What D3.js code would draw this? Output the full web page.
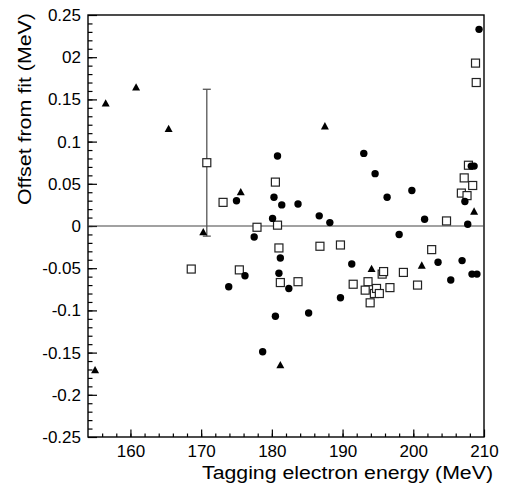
<!DOCTYPE html>
<html>
<head>
<meta charset="utf-8">
<script src="https://cdn.jsdelivr.net/npm/d3@7"></script>
<style>
  body { margin: 0; background: #fff; }
  text { font-family: "Liberation Sans", Arial, Helvetica, sans-serif; fill: #000; }
</style>
</head>
<body>
<script>
// data
const circleX = [175.0, 180.8, 180.3, 181.4, 183.7, 180.1, 177.5, 173.9, 176.2, 181.2, 181.0, 182.4,
                 180.5, 178.7, 185.2, 186.7, 188.2, 193.0, 194.6, 196.3, 199.8, 201.6, 207.7, 207.3,
                 208.2, 208.6, 209.3, 189.7, 191.3, 198.0, 203.5, 205.3, 206.9, 208.3, 209.0];
const circleY = [0.030, 0.083, 0.034, 0.025, 0.026, 0.009, -0.013, -0.072, -0.059, -0.038, -0.056, -0.074,
                 -0.107, -0.149, -0.103, 0.012, 0.004, 0.086, 0.062, 0.034, 0.042, 0.008, 0.002, 0.029,
                 0.071, 0.071, 0.233, -0.085, -0.045, -0.010, -0.043, -0.064, -0.041, -0.057, -0.057];

const squareX = [170.8, 173.1, 180.5, 180.8, 177.9, 168.6, 175.4, 181.0, 181.2, 183.7, 186.8, 189.7,
                 191.5, 193.6, 193.2, 193.9, 194.5, 194.8, 195.2, 195.6, 195.8, 196.7, 198.6, 200.6,
                 202.6, 204.7, 206.8, 207.6, 207.2, 208.4, 207.8, 208.8, 208.9];
const squareY = [0.075, 0.028, 0.052, 0.001, -0.0015, -0.051, -0.052, -0.026, -0.067, -0.066, -0.024, -0.0225,
                 -0.069, -0.066, -0.076, -0.091, -0.080, -0.074, -0.080, -0.057, -0.054, -0.073, -0.055, -0.070,
                 -0.028, 0.006, 0.039, 0.036, 0.057, 0.048, 0.072, 0.193, 0.170];
// error bar on the first square only
const squareErr = [0.087];

const triX = [156.5, 160.8, 165.4, 175.6, 170.3, 155.0, 181.2, 187.5, 194.1, 201.2, 208.6];
const triY = [0.145, 0.164, 0.115, 0.040, -0.0075, -0.171, -0.165, 0.118, -0.051, -0.047, 0.017];

const yTickValues = [0.25, 0.2, 0.15, 0.1, 0.05, 0, -0.05, -0.1, -0.15, -0.2, -0.25];
const yTickLabels = ["0.25", "02", "0.15", "0.1", "0.05", "0", "-0.05", "-0.1", "-0.15", "-0.2", "-0.25"];
const xTickValues = [160, 170, 180, 190, 200, 210];

const width = 508, height = 488;
const marginLeft = 88, marginRight = 24, marginTop = 15, marginBottom = 51;

const svg = d3.create("svg")
  .attr("width", width)
  .attr("height", height);

const x = d3.scaleLinear().domain([154, 210]).range([marginLeft, width - marginRight]);
const y = d3.scaleLinear().domain([-0.25, 0.25]).range([height - marginBottom, marginTop]);

// minor ticks
svg.append("g")
  .attr("transform", `translate(0,${height - marginBottom})`)
  .call(d3.axisBottom(x).tickValues(d3.range(156, 210, 2)).tickSize(-3.5).tickFormat(""))
  .call(g => g.select(".domain").remove());
svg.append("g")
  .attr("transform", `translate(${marginLeft},0)`)
  .call(d3.axisLeft(y).tickValues(d3.range(-24, 25).map(d => d / 100)).tickSize(-4.5).tickFormat(""))
  .call(g => g.select(".domain").remove());

// major ticks + labels
svg.append("g")
  .attr("transform", `translate(0,${height - marginBottom})`)
  .call(d3.axisBottom(x).tickValues(xTickValues).tickSize(-7.5).tickPadding(8.2))
  .call(g => g.select(".domain").remove())
  .selectAll("text").style("font-size", "17px");
svg.append("g")
  .attr("transform", `translate(${marginLeft},0)`)
  .call(d3.axisLeft(y).tickValues(yTickValues).tickSize(-9).tickPadding(7)
    .tickFormat((d, i) => yTickLabels[i]))
  .call(g => g.select(".domain").remove())
  .selectAll("text").style("font-size", "17px");

svg.selectAll(".tick line").attr("stroke", "#000").attr("stroke-width", 1.2);

// frame
svg.append("rect")
  .attr("x", marginLeft).attr("y", marginTop)
  .attr("width", width - marginLeft - marginRight)
  .attr("height", height - marginTop - marginBottom)
  .attr("fill", "none").attr("stroke", "#000").attr("stroke-width", 1.4);

// zero line
svg.append("line")
  .attr("x1", x(154)).attr("x2", x(210))
  .attr("y1", y(0)).attr("y2", y(0))
  .attr("stroke", "#444").attr("stroke-width", 1.2);

// error bar
const eb = svg.append("g").attr("stroke", "#555").attr("stroke-width", 1.3);
eb.append("line")
  .attr("x1", x(squareX[0])).attr("x2", x(squareX[0]))
  .attr("y1", y(squareY[0] + squareErr[0])).attr("y2", y(squareY[0] - squareErr[0]));
[squareY[0] + squareErr[0], squareY[0] - squareErr[0]].forEach(v => {
  eb.append("line")
    .attr("x1", x(squareX[0]) - 4).attr("x2", x(squareX[0]) + 4)
    .attr("y1", y(v)).attr("y2", y(v));
});

// squares
svg.append("g").selectAll("rect")
  .data(squareX.map((d, i) => [d, squareY[i]]))
  .join("rect")
  .attr("x", d => x(d[0]) - 4).attr("y", d => y(d[1]) - 4)
  .attr("width", 8).attr("height", 8)
  .attr("fill", "#fff").attr("stroke", "#222").attr("stroke-width", 1.2);

// circles
svg.append("g").selectAll("circle")
  .data(circleX.map((d, i) => [d, circleY[i]]))
  .join("circle")
  .attr("cx", d => x(d[0])).attr("cy", d => y(d[1]))
  .attr("r", 3.7).attr("fill", "#000");

// triangles
svg.append("g").selectAll("path")
  .data(triX.map((d, i) => [d, triY[i]]))
  .join("path")
  .attr("transform", d => `translate(${x(d[0])},${y(d[1])})`)
  .attr("d", "M0,-4.3L4,3L-4,3Z")
  .attr("fill", "#000");

// axis titles (slightly stretched like the original)
svg.append("text")
  .attr("x", 493).attr("y", 479)
  .attr("text-anchor", "end")
  .attr("textLength", 291).attr("lengthAdjust", "spacingAndGlyphs")
  .style("font-size", "18px")
  .text("Tagging electron energy (MeV)");
svg.append("text")
  .attr("transform", `translate(31,13) rotate(-90)`)
  .attr("text-anchor", "end")
  .attr("textLength", 192).attr("lengthAdjust", "spacingAndGlyphs")
  .style("font-size", "18px")
  .text("Offset from fit (MeV)");

document.body.appendChild(svg.node());
</script>
</body>
</html>
